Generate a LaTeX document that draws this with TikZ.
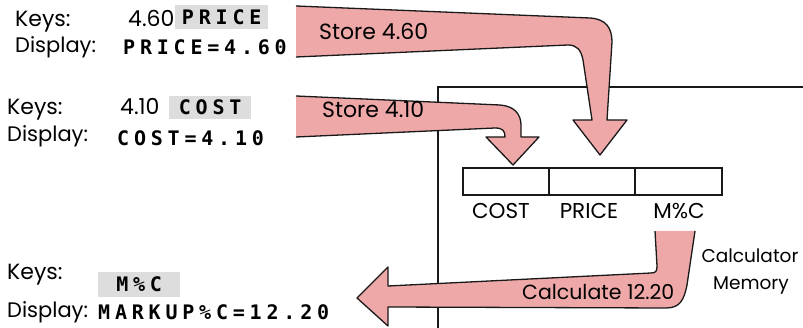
\documentclass[tikz,border=0pt]{standalone}
\usepackage{fontspec}
\setmainfont{Poppins}
\newfontfamily\lcdfont{DejaVu Sans Mono}[LetterSpace=24]
\newcommand{\lcd}[1]{{\lcdfont\bfseries\fontsize{20}{20}\selectfont #1}}
\definecolor{arrowpink}{RGB}{239,168,168}
\definecolor{keygray}{RGB}{221,221,221}
\tikzset{
  lbl/.style={anchor=base west,inner sep=0pt,font=\fontsize{22}{22}\selectfont},
  reglbl/.style={anchor=base,inner sep=0pt,font=\fontsize{21.5}{21.5}\selectfont},
  memlbl/.style={anchor=base,inner sep=0pt,font=\fontsize{18.5}{18.5}\selectfont},
  disp/.style={anchor=base west,inner sep=0pt},
  keybox/.style={fill=keygray,inner sep=0pt,anchor=north west},
  fatarrow/.style={fill=arrowpink,draw=none},
  arrowedge/.style={draw=black!90,line width=1.3pt,line join=round},
  frame/.style={draw=black!90,line width=1.6pt},
  reg/.style={draw=black!90,line width=1.6pt,minimum width=86pt,minimum height=27pt,inner sep=0pt,anchor=north west}
}
\begin{document}
\begin{tikzpicture}[x=1pt,y=-1pt]
\useasboundingbox (0,0) rectangle (803,328);
% memory frame and registers
\draw[frame] (438,328) -- (438,87) -- (803,87);
\node[reg] (rcost) at (462,167) {};
\node[reg] (rprice) at (548,167) {};
\node[reg,minimum width=87pt] (rmc) at (634,167) {};
\node[reglbl] (lcost) at (501,219) {COST};
\node[reglbl] (lprice) at (589,219) {PRICE};
\node[reglbl] (lmc) at (679,219) {M\%C};
\node[memlbl] (cm1) at (750,263) {Calculator};
\node[memlbl] (cm2) at (751,290) {Memory};
% block 1
\node[lbl] (k1) at (15,27) {Keys:};
\node[lbl,font=\fontsize{21}{21}\selectfont] (d1) at (15,53) {Display:};
\node[lbl] (v1) at (128,27) {4.60};
\node[keybox,minimum width=93pt,minimum height=24pt] (kb1) at (175,5) {\lcd{PRICE}};
\node[disp] (s1) at (123,55) {\lcd{PRICE=4.60}};
% block 2
\node[lbl] (k2) at (7,115) {Keys:};
\node[lbl,font=\fontsize{21}{21}\selectfont] (d2) at (7,142) {Display:};
\node[lbl] (v2) at (120,115) {4.10};
\node[keybox,minimum width=82pt,minimum height=23pt] (kb2) at (169,96) {\lcd{COST}};
\node[disp] (s2) at (117,146) {\lcd{COST=4.10}};
% block 3
\node[lbl] (k3) at (7,280) {Keys:};
\node[lbl,font=\fontsize{21}{21}\selectfont] (d3) at (7,318) {Display:};
\node[keybox,minimum width=82pt,minimum height=25pt] (kb3) at (98,272) {\lcd{M\%C}};
\node[disp] (s3) at (98,320) {\lcd{MARKUP\%C=12.20}};
% arrow 1: Store 4.60
\fill[fatarrow] (296,6) -- (590,18) .. controls (606,19) and (612,28) .. (612,42)
  -- (607,120) -- (627,120) -- (600,155) -- (573,120) -- (592,120)
  -- (583,60) .. controls (581,50) and (577,45) .. (568,45) -- (296,57) -- cycle;
\draw[arrowedge] (296,6) -- (590,18) .. controls (606,19) and (612,28) .. (612,42)
  -- (607,120) -- (627,120) -- (600,155) -- (573,120) -- (592,120)
  -- (583,60) .. controls (581,50) and (577,45) .. (568,45) -- (296,57);
\node[lbl] (t1) at (319,40) {Store 4.60};
% arrow 2: Store 4.10
\fill[fatarrow] (296,96) -- (500,105) .. controls (514,106) and (521,114) .. (521,125)
  -- (521,137) -- (539,137) -- (513,165) -- (486,137) -- (505,137)
  .. controls (505,131) and (503,128) .. (495,128) -- (296,137) -- cycle;
\draw[arrowedge] (296,96) -- (500,105) .. controls (514,106) and (521,114) .. (521,125)
  -- (521,137) -- (539,137) -- (513,165) -- (486,137) -- (505,137)
  .. controls (505,131) and (503,128) .. (495,128) -- (296,137);
\node[lbl] (t2) at (322,118) {Store 4.10};
% arrow 3: Calculate 12.20
\fill[fatarrow] (655,231) -- (695,231) -- (687,285) .. controls (684,300) and (680,308) .. (666,308)
  -- (388,307) -- (388,326) -- (357,298) -- (388,267) -- (388,286)
  -- (651,273) .. controls (656,273) and (657,271) .. (657,266) -- cycle;
\draw[arrowedge] (695,231) -- (687,285) .. controls (684,300) and (680,308) .. (666,308)
  -- (388,307) -- (388,326) -- (357,298) -- (388,267) -- (388,286)
  -- (651,273) .. controls (656,273) and (657,271) .. (657,266) -- (655,231);
\node[lbl,font=\fontsize{20.5}{20.5}\selectfont] (t3) at (522,300) {Calculate 12.20};
\end{tikzpicture}
\end{document}
